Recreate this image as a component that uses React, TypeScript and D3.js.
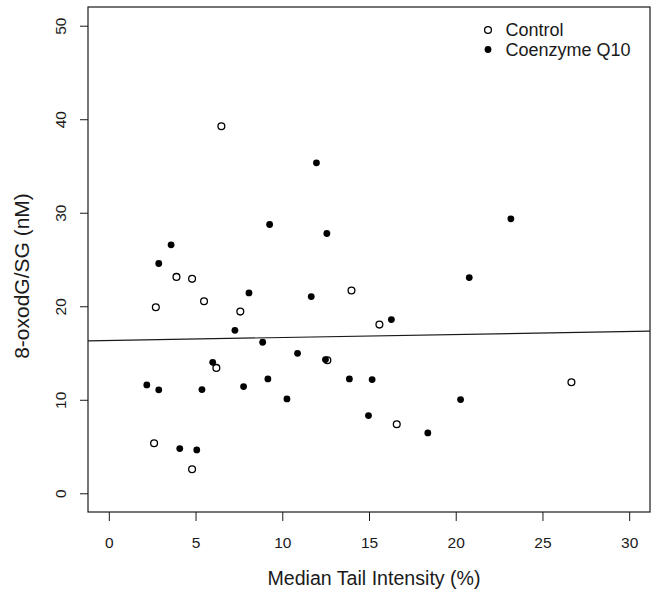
import React, { useEffect, useRef } from 'react';
import * as d3 from 'd3';

// Control group (open circles)
const controlX = [6.49, 3.9, 4.8, 13.99, 2.71, 5.49, 7.58, 6.2, 12.6, 2.61, 4.8, 15.6, 26.67, 16.6];
const controlY = [39.25, 23.14, 22.93, 21.68, 19.9, 20.54, 19.43, 13.41, 14.23, 5.35, 2.57, 18.04, 11.88, 7.38];

// Coenzyme Q10 group (filled circles)
const q10X = [11.97, 9.27, 12.57, 3.59, 2.88, 8.08, 11.67, 7.27, 8.87, 10.88, 5.99, 12.49, 2.19, 2.88,
  5.37, 7.77, 9.17, 10.27, 13.87, 15.18, 14.97, 4.09, 5.07, 20.78, 16.29, 20.28, 18.39, 23.18];
const q10Y = [35.34, 28.74, 27.78, 26.57, 24.57, 21.43, 21.04, 17.43, 16.15, 14.97, 14.01, 14.3, 11.59, 11.06,
  11.09, 11.41, 12.23, 10.09, 12.23, 12.16, 8.31, 4.78, 4.64, 23.07, 18.58, 10.02, 6.46, 29.35];

const xTicks = [0, 5, 10, 15, 20, 25, 30];
const yTicks = [0, 10, 20, 30, 40, 50];
const legendLabels = ['Control', 'Coenzyme Q10'];

// fitted line (intercept, slope)
const fitLine = [16.34, 0.032];

const FONT = '"Liberation Sans", Arial, sans-serif';

const App = () => {
  const ref = useRef<SVGSVGElement>(null);

  useEffect(() => {
    const svg = d3.select(ref.current);
    svg.selectAll('*').remove();

    const left = 88, right = 650, top = 7, bottom = 512;
    const x = d3.scaleLinear().domain([-1.2, 31.2]).range([left, right]);
    const y = d3.scaleLinear().domain([-2, 52]).range([bottom, top]);
    const ink = '#1a1a1a';

    // x axis
    const xa = svg.append('g')
      .attr('transform', `translate(0,${bottom})`)
      .call(d3.axisBottom(x).tickValues(xTicks).tickSize(9).tickPadding(16).tickFormat(d3.format('d')));
    xa.select('.domain').remove();
    xa.selectAll('line').attr('stroke', ink);
    xa.selectAll('text').attr('font-family', FONT).attr('font-size', 15.5).attr('fill', ink);

    // y axis
    const ya = svg.append('g')
      .attr('transform', `translate(${left},0)`)
      .call(d3.axisLeft(y).tickValues(yTicks).tickSize(8).tickFormat(d3.format('d')));
    ya.select('.domain').remove();
    ya.selectAll('line').attr('stroke', ink);
    ya.selectAll('text').remove();
    ya.selectAll('.tick').append('text')
      .attr('transform', 'translate(-22,0) rotate(-90)')
      .attr('text-anchor', 'middle')
      .attr('font-family', FONT)
      .attr('font-size', 15.5)
      .attr('fill', ink)
      .text((d: any) => String(d));

    // box
    svg.append('rect')
      .attr('x', left).attr('y', top)
      .attr('width', right - left).attr('height', bottom - top)
      .attr('fill', 'none').attr('stroke', ink).attr('stroke-width', 1.2);

    // titles
    svg.append('text')
      .attr('x', (left + right) / 2 + 5).attr('y', 585)
      .attr('text-anchor', 'middle')
      .attr('font-family', FONT).attr('font-size', 19.6).attr('fill', ink)
      .text('Median Tail Intensity (%)');
    svg.append('text')
      .attr('transform', 'translate(29,276) rotate(-90)')
      .attr('text-anchor', 'middle')
      .attr('font-family', FONT).attr('font-size', 21).attr('fill', ink)
      .text('8-oxodG/SG (nM)');

    // regression line clipped to box
    const [a, b] = fitLine;
    const [x0, x1] = x.domain();
    svg.append('line')
      .attr('x1', x(x0)).attr('y1', y(a + b * x0))
      .attr('x2', x(x1)).attr('y2', y(a + b * x1))
      .attr('stroke', ink).attr('stroke-width', 1.2);

    // points
    svg.append('g').selectAll('circle')
      .data(d3.range(q10X.length))
      .join('circle')
      .attr('cx', (i) => x(q10X[i]))
      .attr('cy', (i) => y(q10Y[i]))
      .attr('r', 3.4)
      .attr('fill', '#000');

    svg.append('g').selectAll('circle')
      .data(d3.range(controlX.length))
      .join('circle')
      .attr('cx', (i) => x(controlX[i]))
      .attr('cy', (i) => y(controlY[i]))
      .attr('r', 3.4)
      .attr('fill', 'none')
      .attr('stroke', '#000')
      .attr('stroke-width', 1.3);

    // legend
    const lg = svg.append('g');
    legendLabels.forEach((lab, i) => {
      const cy = 30 + i * 19.5;
      const c = lg.append('circle').attr('cx', 488).attr('cy', cy).attr('r', i === 0 ? 3.4 : 3.4);
      if (i === 0) c.attr('fill', 'none').attr('stroke', '#000').attr('stroke-width', 1.3);
      else c.attr('fill', '#000');
      lg.append('text')
        .attr('x', 505.5).attr('y', cy + 6.3)
        .attr('font-family', FONT).attr('font-size', 18).attr('fill', ink)
        .text(lab);
    });
  }, []);

  return (
    <svg ref={ref} width={655} height={590}
      style={{ position: 'absolute', left: 0, top: 0, background: '#fff' }} />
  );
};

export default App;
